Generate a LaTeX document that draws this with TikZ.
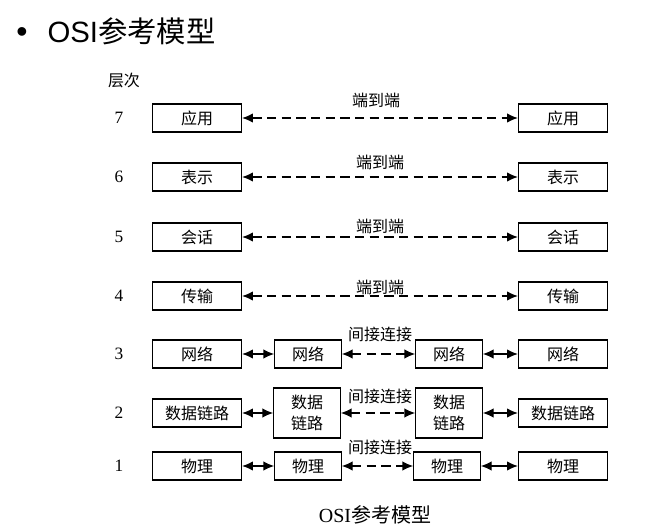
\documentclass[tikz,border=0pt]{standalone}
\usepackage{fontspec}
\setmainfont{Liberation Serif}
\newfontfamily\cjk{Noto Sans CJK SC}
\newfontfamily\titlefont{Liberation Sans}
\usetikzlibrary{arrows.meta, positioning}

\begin{document}
\begin{tikzpicture}[
            x=0.75pt, y=-0.75pt,
            >={Latex[length=8pt, width=7pt]},
            line width=0.8pt,
            layer/.style={rectangle, draw, minimum width=67pt, minimum height=21pt, inner sep=0pt, font=\cjk\fontsize{12}{15.5}\selectfont},
            relay/.style={layer, minimum width=50pt},
            num/.style={inner sep=0pt, font=\fontsize{13}{15}\selectfont},
            note/.style={inner sep=0pt, font=\cjk\fontsize{12}{14}\selectfont},
            peer/.style={<->, dash pattern=on 7pt off 4pt},
            hop/.style={<->}
        ]
        \useasboundingbox (0,0) rectangle (658,531);

        % Title
        \node[inner sep=0pt, font=\titlefont\fontsize{24}{26}\selectfont] (dot) at (22,35) {\textbullet};
        \node[inner sep=0pt, anchor=base west, font=\titlefont\fontsize{22}{26}\selectfont] (title) at (47,43) {OSI{\cjk 参考模型}};
        \node[note] (head) at (124,80) {层次};

        % Left side - host A
        \node[layer] (a7) at (197,118) {应用};
        \node[layer] (a6) at (197,177) {表示};
        \node[layer] (a5) at (197,237) {会话};
        \node[layer] (a4) at (197,296) {传输};
        \node[layer] (a3) at (197,354) {网络};
        \node[layer] (a2) at (197,413) {数据链路};
        \node[layer] (a1) at (197,466) {物理};

        % Layer numbers
        \node[num, left=21pt of a7] (n7) {7};
        \node[num, left=21pt of a6] (n6) {6};
        \node[num, left=21pt of a5] (n5) {5};
        \node[num, left=21pt of a4] (n4) {4};
        \node[num, left=21pt of a3] (n3) {3};
        \node[num, left=21pt of a2] (n2) {2};
        \node[num, left=21pt of a1] (n1) {1};

        % Right side - host B
        \node[layer] (b7) at (563,118) {应用};
        \node[layer] (b6) at (563,177) {表示};
        \node[layer] (b5) at (563,237) {会话};
        \node[layer] (b4) at (563,296) {传输};
        \node[layer] (b3) at (563,354) {网络};
        \node[layer] (b2) at (563,413) {数据链路};
        \node[layer] (b1) at (563,466) {物理};

        % Middle - routers
        \node[relay] (r3) at (308,354) {网络};
        \node[relay, minimum height=37.5pt, align=center] (r2) at (307,413) {数据\\链路};
        \node[relay] (r1) at (308,466) {物理};
        \node[relay] (s3) at (449,354) {网络};
        \node[relay, minimum height=37.5pt, align=center] (s2) at (449,413) {数据\\链路};
        \node[relay] (s1) at (447,466) {物理};

        % End to end
        \draw[peer] (a7.east) -- (b7.west);
        \draw[peer] (a6.east) -- (b6.west);
        \draw[peer] (a5.east) -- (b5.west);
        \draw[peer] (a4.east) -- (b4.west);
        \node[note] (e7) at (376,100) {端到端};
        \node[note] (e6) at (380,162) {端到端};
        \node[note] (e5) at (380,226) {端到端};
        \node[note] (e4) at (380,287) {端到端};

        % Hop by hop
        \draw[hop] (a3.east) -- (r3.west);
        \draw[hop] (a2.east) -- (r2.west);
        \draw[hop] (a1.east) -- (r1.west);
        \draw[peer] (r3.east) -- (s3.west);
        \draw[peer] (r2.east) -- (s2.west);
        \draw[peer] (r1.east) -- (s1.west);
        \draw[hop] (s3.east) -- (b3.west);
        \draw[hop] (s2.east) -- (b2.west);
        \draw[hop] (s1.east) -- (b1.west);
        \node[note] (i3) at (380,334) {间接连接};
        \node[note] (i2) at (380,396) {间接连接};
        \node[note] (i1) at (380,447) {间接连接};

        % Caption
        \node[inner sep=0pt, font=\fontsize{15}{17}\selectfont] (caption) at (375,515) {OSI{\cjk 参考模型}};

    \end{tikzpicture}
\end{document}
